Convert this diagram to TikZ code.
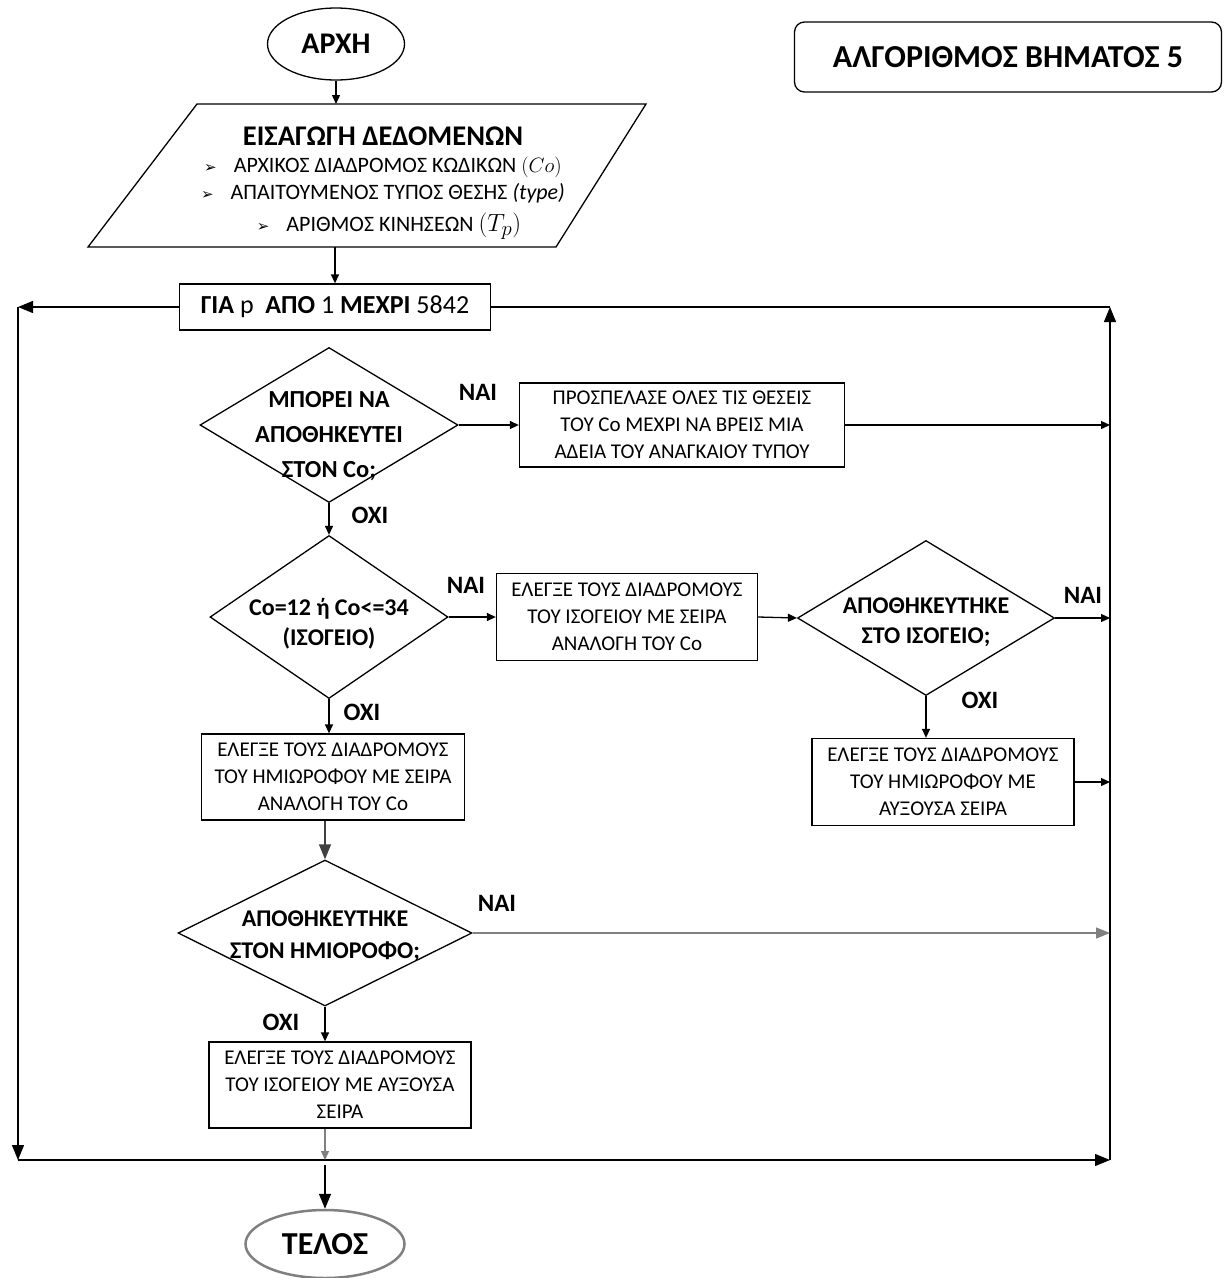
\documentclass[tikz,border=0pt]{standalone}
\usepackage{fontspec}
\setmainfont{Carlito}
\newfontfamily\dejavu{DejaVu Sans}
\usetikzlibrary{shapes.geometric, arrows.meta, positioning, calc}

\newcommand{\bul}{{\dejavu\fontsize{15}{15}\selectfont ➢}\hspace{17pt}}

\begin{document}
\begin{tikzpicture}[
	x=1pt, y=-1pt,
	line width=1.3pt,
	% Shape styles
	term/.style={ellipse, draw, minimum width=137pt, minimum height=72pt, inner sep=0pt, font=\fontsize{30}{34}\selectfont\bfseries},
	iotext/.style={align=center, inner sep=0pt, font=\fontsize{22}{27}\selectfont},
	proc/.style={rectangle, draw, align=center, inner sep=0pt, font=\fontsize{21}{27}\selectfont},
	dec/.style={diamond, draw, align=center, aspect=1.7, inner sep=-20pt, font=\fontsize{24}{30}\selectfont\bfseries},
	% Text styles
	yesno/.style={font=\fontsize{25}{28}\selectfont\bfseries},
	mainTitle/.style={draw, rounded corners=10pt, minimum width=427pt, minimum height=70pt, font=\fontsize{32}{36}\selectfont\bfseries},
	% Arrow styles
	arr/.style={-{Triangle[length=9pt,width=8pt]}},
	bigarr/.style={-{Triangle[length=15pt,width=12pt]}}
	]
	\useasboundingbox (0,0) rectangle (1226,1278);
	
	% ==============================================================================
	% START AND INPUT
	% ==============================================================================
	\node[term] (start) at (336,44) {ΑΡΧΗ};
	\node[mainTitle] (title) at (1008,57) {ΑΛΓΟΡΙΘΜΟΣ ΒΗΜΑΤΟΣ 5};
	
	% input parallelogram
	\coordinate (inTL) at (197,104);
	\coordinate (inTR) at (646,104);
	\coordinate (inBR) at (556,247);
	\coordinate (inBL) at (88,247);
	\draw (inBL) -- (inTL) -- (inTR) -- (inBR) -- cycle;
	\node[iotext] (inp) at (383,183) {
		{\fontsize{28.5}{30}\selectfont\bfseries ΕΙΣΑΓΩΓΗ ΔΕΔΟΜΕΝΩΝ}\\
		\bul ΑΡΧΙΚΟΣ ΔΙΑΔΡΟΜΟΣ ΚΩΔΙΚΩΝ $(Co)$\\
		\bul ΑΠΑΙΤΟΥΜΕΝΟΣ ΤΥΠΟΣ ΘΕΣΗΣ \textit{(type)}\\[5pt]
		\hspace*{12pt}\bul ΑΡΙΘΜΟΣ ΚΙΝΗΣΕΩΝ {\fontsize{30}{30}\selectfont$(T_p)$}
	};
	
	\node[proc, minimum width=311pt, minimum height=46pt, font=\fontsize{26}{30}\selectfont] (loop) at (335,307) {\textbf{ΓΙΑ} p\ \ \textbf{ΑΠΟ} 1 \textbf{ΜΕΧΡΙ} 5842};
	
	% ==============================================================================
	% DECISIONS AND STEPS
	% ==============================================================================
	\node[dec, minimum width=258pt, minimum height=155pt, font=\fontsize{24.5}{35}\selectfont\bfseries] (d1) at (329,425) {\rule{0pt}{38pt}ΜΠΟΡΕΙ ΝΑ\\ΑΠΟΘΗΚΕΥΤΕΙ\\ΣΤΟΝ Co;};
	\node[proc, minimum width=325pt, minimum height=84pt] (p1) at (682,425) {ΠΡΟΣΠΕΛΑΣΕ ΟΛΕΣ ΤΙΣ ΘΕΣΕΙΣ\\ΤΟΥ Co ΜΕΧΡΙ ΝΑ ΒΡΕΙΣ ΜΙΑ\\ΑΔΕΙΑ ΤΟΥ ΑΝΑΓΚΑΙΟΥ ΤΥΠΟΥ};
	
	\node[dec, minimum width=238pt, minimum height=163pt] (d2) at (329,617) {\rule{0pt}{30pt}Co=12 ή Co<=34\\(ΙΣΟΓΕΙΟ)};
	\node[proc, minimum width=261pt, minimum height=87pt] (p2) at (627,617) {ΕΛΕΓΞΕ ΤΟΥΣ ΔΙΑΔΡΟΜΟΥΣ\\ΤΟΥ ΙΣΟΓΕΙΟΥ ΜΕ ΣΕΙΡΑ\\ΑΝΑΛΟΓΗ ΤΟΥ Co};
	
	\node[dec, minimum width=257pt, minimum height=155pt] (d3) at (926,618) {\rule{0pt}{24pt}ΑΠΟΘΗΚΕΥΤΗΚΕ\\ΣΤΟ ΙΣΟΓΕΙΟ;};
	\node[proc, minimum width=262pt, minimum height=87pt] (p3) at (943,782) {ΕΛΕΓΞΕ ΤΟΥΣ ΔΙΑΔΡΟΜΟΥΣ\\ΤΟΥ ΗΜΙΩΡΟΦΟΥ ΜΕ\\ΑΥΞΟΥΣΑ ΣΕΙΡΑ};
	
	\node[proc, minimum width=263pt, minimum height=86pt] (p4) at (333,777) {ΕΛΕΓΞΕ ΤΟΥΣ ΔΙΑΔΡΟΜΟΥΣ\\ΤΟΥ ΗΜΙΩΡΟΦΟΥ ΜΕ ΣΕΙΡΑ\\ΑΝΑΛΟΓΗ ΤΟΥ Co};
	\node[dec, minimum width=294pt, minimum height=146pt, font=\fontsize{24}{32}\selectfont\bfseries] (d4) at (325,933) {\rule{0pt}{22pt}ΑΠΟΘΗΚΕΥΤΗΚΕ\\ΣΤΟΝ ΗΜΙΟΡΟΦΟ;};
	\node[proc, minimum width=262pt, minimum height=86pt] (p5) at (340,1085) {ΕΛΕΓΞΕ ΤΟΥΣ ΔΙΑΔΡΟΜΟΥΣ\\ΤΟΥ ΙΣΟΓΕΙΟΥ ΜΕ ΑΥΞΟΥΣΑ\\ΣΕΙΡΑ};
	
	\node[term, draw=gray, line width=2.5pt, minimum width=159pt, minimum height=68pt, font=\fontsize{32}{36}\selectfont\bfseries] (stop) at (325,1244) {ΤΕΛΟΣ};
	
	% yes / no labels
	\node[yesno] (y1) at (478,392) {ΝΑΙ};
	\node[yesno] (n1) at (370,515) {ΟΧΙ};
	\node[yesno] (y2) at (466,585) {ΝΑΙ};
	\node[yesno] (n2) at (362,712) {ΟΧΙ};
	\node[yesno] (y3) at (1083,595) {ΝΑΙ};
	\node[yesno] (n3) at (980,700) {ΟΧΙ};
	\node[yesno] (y4) at (497,903) {ΝΑΙ};
	\node[yesno] (n4) at (281,1022) {ΟΧΙ};
	
	% loop corners
	\coordinate (tl) at (18,307);
	\coordinate (bl) at (18,1160);
	\coordinate (br) at (1110,1160);
	\coordinate (tr) at (1110,307);
	
	% ==============================================================================
	% CONNECTORS
	% ==============================================================================
	\draw[arr] (start.south) -- (start.south |- inTL);
	\draw[arr] (loop.north |- inBL) -- (loop.north);
	
	\draw[bigarr] (loop.west) -- (tl);
	\draw[bigarr] (tl) -- (bl);
	\draw[bigarr] (bl) -- (br);
	\draw[bigarr] (br) -- (tr);
	\draw (tr) -- (loop.east);
	
	\draw[arr] (d1.east) -- (p1.west);
	\draw[arr] (p1.east) -- (p1.east -| tr);
	\draw[arr] (d1.south) -- (d2.north);
	
	\draw[arr] (d2.east) -- (p2.west);
	\draw[arr] (p2.east) -- (d3.west);
	\draw[arr] (d3.east) -- (d3.east -| tr);
	\draw[arr] (d3.south) -- (d3.south |- p3.north);
	\draw[arr] (p3.east) -- (p3.east -| tr);
	
	\draw[arr] (d2.south) -- (d2.south |- p4.north);
	\draw[bigarr, draw=black!75, fill=black!75] (p4.south -| d4.north) -- (d4.north);
	\draw[-{Triangle[length=14pt,width=11pt]}, draw=gray, fill=gray] (d4.east) -- (d4.east -| tr);
	\draw[arr] (d4.south) -- (d4.south |- p5.north);
	\draw[arr, draw=gray, fill=gray] (d4.south |- p5.south) -- (d4.south |- bl);
	\draw[bigarr] ($(stop.north |- bl)+(0,5)$) -- (stop.north);
	
\end{tikzpicture}
\end{document}
